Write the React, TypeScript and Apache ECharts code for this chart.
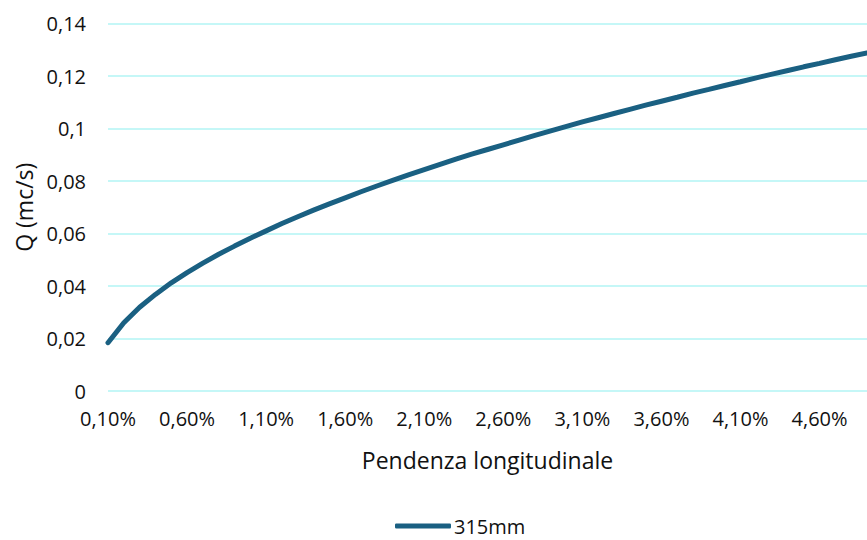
import React, { useEffect, useRef } from "react";
import * as echarts from "echarts";

const slopes: string[] = [
  "0,10%", "0,20%", "0,30%", "0,40%", "0,50%", "0,60%", "0,70%", "0,80%", "0,90%", "1,00%",
  "1,10%", "1,20%", "1,30%", "1,40%", "1,50%", "1,60%", "1,70%", "1,80%", "1,90%", "2,00%",
  "2,10%", "2,20%", "2,30%", "2,40%", "2,50%", "2,60%", "2,70%", "2,80%", "2,90%", "3,00%",
  "3,10%", "3,20%", "3,30%", "3,40%", "3,50%", "3,60%", "3,70%", "3,80%", "3,90%", "4,00%",
  "4,10%", "4,20%", "4,30%", "4,40%", "4,50%", "4,60%", "4,70%", "4,80%", "4,90%",
];

const q315: number[] = [
  0.0184, 0.0260, 0.0319, 0.0368, 0.0412, 0.0451, 0.0487, 0.0521, 0.0552, 0.0582,
  0.0610, 0.0638, 0.0664, 0.0689, 0.0713, 0.0736, 0.0759, 0.0781, 0.0802, 0.0823,
  0.0843, 0.0863, 0.0883, 0.0902, 0.0920, 0.0938, 0.0956, 0.0974, 0.0991, 0.1008,
  0.1025, 0.1041, 0.1057, 0.1073, 0.1089, 0.1104, 0.1119, 0.1135, 0.1149, 0.1164,
  0.1178, 0.1193, 0.1207, 0.1221, 0.1235, 0.1248, 0.1262, 0.1275, 0.1288,
];

const seriesName = "315mm";
const xTitle = "Pendenza longitudinale";
const yTitle = "Q (mc/s)";

const FONT = "'Open Sans', 'Noto Sans', sans-serif";
const TEXT = "#111111";

export default function App() {
  const ref = useRef<HTMLDivElement>(null);
  useEffect(() => {
    if (!ref.current) return;
    const chart = echarts.init(ref.current, null, { renderer: "svg" });
    chart.setOption({
      animation: false,
      backgroundColor: "#ffffff",
      textStyle: { fontFamily: FONT },
      grid: { left: 108, right: 0, top: 23.5, bottom: 149, containLabel: false },
      legend: {
        top: 511,
        left: 390,
        icon: "roundRect",
        itemWidth: 56,
        itemHeight: 5,
        itemGap: 2,
        textStyle: { fontFamily: FONT, fontSize: 20, color: TEXT, padding: [0, 0, 0, -2] },
        data: [seriesName],
      },
      xAxis: {
        type: "category",
        data: slopes,
        boundaryGap: false,
        name: xTitle,
        nameLocation: "middle",
        nameGap: 57,
        nameTextStyle: { fontFamily: FONT, fontSize: 23, color: TEXT },
        axisLine: { show: false },
        axisTick: { show: false },
        axisLabel: { interval: 4, margin: 17, fontFamily: FONT, fontSize: 20, color: TEXT },
        splitLine: { show: false },
      },
      yAxis: {
        type: "value",
        min: 0,
        max: 0.14,
        interval: 0.02,
        name: yTitle,
        nameLocation: "middle",
        nameGap: 73,
        nameRotate: 90,
        nameTextStyle: { fontFamily: FONT, fontSize: 23, color: TEXT },
        axisLine: { show: false },
        axisTick: { show: false },
        axisLabel: {
          margin: 22,
          fontFamily: FONT,
          fontSize: 20,
          color: TEXT,
          formatter: (v: number) => String(+v.toFixed(2)).replace(".", ","),
        },
        splitLine: { show: true, lineStyle: { color: "#c5f7f7", width: 2 } },
      },
      series: [
        {
          name: seriesName,
          type: "line",
          data: q315,
          showSymbol: false,
          symbol: "none",
          smooth: false,
          lineStyle: { color: "#1a6082", width: 5, cap: "round" },
          itemStyle: { color: "#1a6082" },
        },
      ],
    });
    return () => chart.dispose();
  }, []);
  return (
    <div style={{ position: "fixed", left: 0, top: 0, width: 867, height: 540, overflow: "hidden", background: "#fff" }}>
      <div ref={ref} style={{ width: 867, height: 540 }} />
    </div>
  );
}
